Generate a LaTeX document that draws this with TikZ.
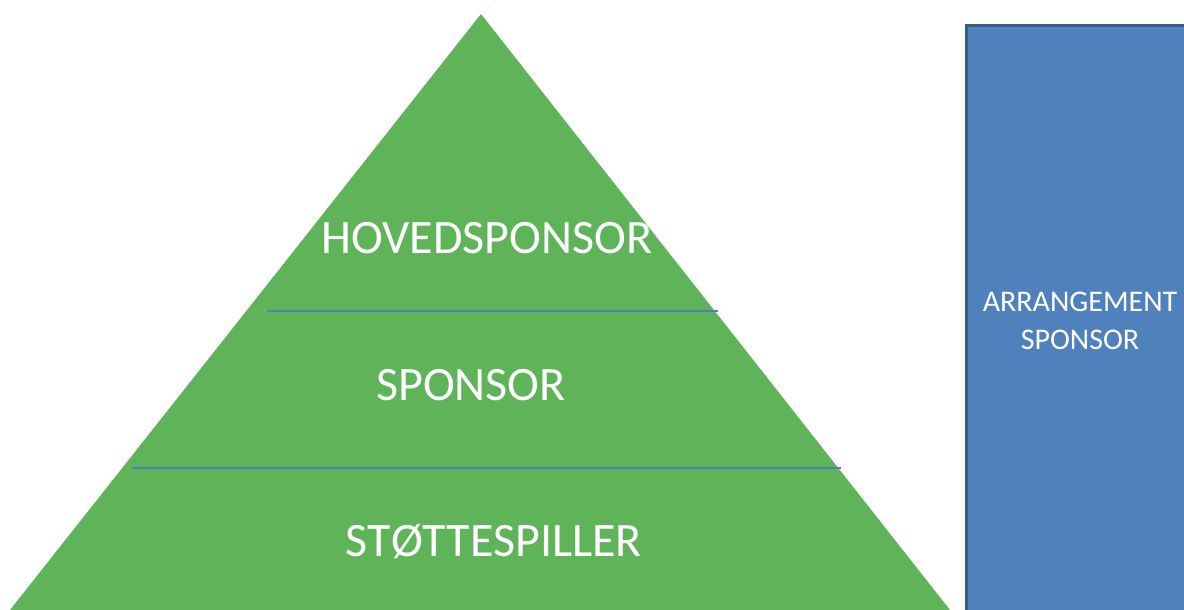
\documentclass[tikz,border=0pt]{standalone}
\usepackage{fontspec}
\setmainfont{Carlito}
\usepackage{tikz}
\usetikzlibrary{positioning}

\definecolor{pyrgreen}{RGB}{95,180,90}
\definecolor{boxblue}{RGB}{79,129,189}
\definecolor{boxedge}{RGB}{56,93,138}

\begin{document}
\begin{tikzpicture}[
      x=1pt, y=1pt,
      level/.style={text=white, font=\fontsize{48}{52}\selectfont},
      boxtext/.style={text=white, align=center, font=\fontsize{30}{38}\selectfont},
      divider/.style={draw=boxblue, line width=1.3pt}
    ]
    \useasboundingbox (0,0) rectangle (1184,610);
    % pyramid
    \coordinate (top) at (481,596);
    \coordinate (left) at (10,0);
    \coordinate (right) at (950,0);
    \fill[pyrgreen] (left) -- (top) -- (right) -- cycle;
    \coordinate (d1l) at (267,299);
    \coordinate (d1r) at (718,299);
    \coordinate (d2l) at (132,142);
    \coordinate (d2r) at (841,142);
    \draw[divider] (d1l) -- (d1r);
    \draw[divider] (d2l) -- (d2r);
    \node[level] (hoved) at (487,372) {HOVEDSPONSOR};
    \node[level] (sponsor) at (471,225) {SPONSOR};
    \node[level] (stotte) at (494,68) {STØTTESPILLER};
    % side box
    \draw[fill=boxblue, draw=boxedge, line width=3pt] (966,-10) rectangle (1196,584);
    \node[boxtext] (arr) at (1080,289) {ARRANGEMENT\\SPONSOR};
  \end{tikzpicture}
\end{document}
